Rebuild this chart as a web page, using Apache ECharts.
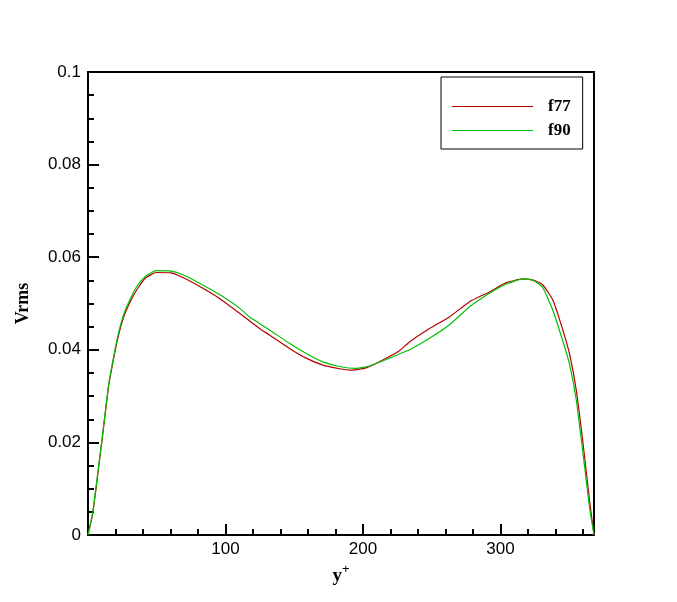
<!DOCTYPE html>
<html>
<head>
<meta charset="utf-8">
<script src="https://cdn.jsdelivr.net/npm/echarts@6/dist/echarts.min.js"></script>
<style>
html,body{margin:0;padding:0;background:#fff;}
#chart{width:677px;height:602px;}
</style>
</head>
<body>
<div id="chart"></div>
<script>
// ---- data ----
const xF77 = [0, 3.5, 8.4, 10.8, 14.9, 18.0, 21.7, 26.0, 31.4, 36.2, 42.3, 49.6, 60.5, 69.0, 83.5, 95.6, 110.2, 124.7, 132, 146.5, 158.7, 170.8, 182.9, 190.2, 202.3, 214.4, 226.5, 233.8, 248.4, 262.9, 277.5, 292, 304.1, 316.2, 321.1, 326, 330.8, 338, 345.3, 350.2, 355.1, 359.9, 364.7, 368];
const vF77 = [0, 0.0047, 0.0162, 0.0219, 0.0320, 0.0371, 0.0425, 0.0471, 0.0508, 0.0533, 0.0556, 0.0567, 0.0566, 0.0556, 0.0533, 0.0511, 0.0479, 0.0446, 0.0432, 0.0403, 0.0382, 0.0367, 0.0359, 0.0356, 0.0361, 0.0378, 0.0398, 0.0417, 0.0446, 0.0471, 0.0504, 0.0525, 0.0545, 0.0553, 0.0552, 0.0548, 0.0540, 0.0508, 0.0443, 0.0391, 0.0313, 0.0201, 0.0076, 0];
const xF90 = [0, 3.5, 8.4, 10.8, 14.9, 18.0, 21.7, 26.0, 31.4, 36.2, 42.3, 49.6, 60.5, 69.0, 83.5, 98, 110.2, 117.5, 124.7, 132, 146.5, 158.7, 170.8, 182.9, 195, 204.7, 216.9, 226.5, 233.8, 248.4, 262.9, 277.5, 292, 304.1, 316.2, 321.1, 326, 330.8, 338, 345.3, 350.2, 355.1, 359.9, 364.7, 368];
const vF90 = [0, 0.0050, 0.0165, 0.0222, 0.0323, 0.0375, 0.0430, 0.0477, 0.0514, 0.0540, 0.0560, 0.0571, 0.0570, 0.0562, 0.0540, 0.0515, 0.0490, 0.0471, 0.0457, 0.0443, 0.0414, 0.0392, 0.0374, 0.0364, 0.0360, 0.0365, 0.0379, 0.0391, 0.0400, 0.0425, 0.0454, 0.0493, 0.0522, 0.0542, 0.0553, 0.0552, 0.0546, 0.0534, 0.0486, 0.0419, 0.0369, 0.0292, 0.0179, 0.0060, 0];
const seriesNames = ['f77', 'f90'];
const xMajorTicks = [100, 200, 300];
const yMax = 0.1;
const xMax = 368;

const pairs = (xs, vs) => xs.map((x, i) => [x, vs[i]]);

const chart = echarts.init(document.getElementById('chart'), null, {renderer: 'canvas'});
const black = '#000';
const sans = '"Liberation Sans", Arial, sans-serif';
const serif = '"Liberation Serif", "Times New Roman", serif';

chart.setOption({
  backgroundColor: '#fff',
  animation: false,
  grid: {left: 88, right: 83, top: 72, bottom: 67, show: true, borderColor: black, borderWidth: 2, backgroundColor: 'transparent'},
  legend: {
    left: 441, top: 77,
    orient: 'vertical',
    padding: [21, 12, 10, 11],
    icon: 'rect',
    itemWidth: 81, itemHeight: 1.2, itemGap: 7,
    borderColor: black, borderWidth: 1, borderRadius: 0,
    backgroundColor: '#fff',
    textStyle: {fontFamily: serif, fontWeight: 'bold', fontSize: 17, color: black, padding: [0, 0, 0, 10], lineHeight: 14},
    data: seriesNames
  },
  xAxis: [
    {
      type: 'value', min: 0, max: xMax, interval: 100, position: 'bottom',
      axisLine: {show: true, lineStyle: {color: black, width: 2}},
      axisTick: {show: true, inside: true, length: 11, lineStyle: {color: black, width: 2}},
      axisLabel: {
        color: black, fontFamily: sans, fontSize: 17, margin: 6,
        formatter: v => xMajorTicks.indexOf(Math.round(v)) >= 0 ? String(Math.round(v)) : ''
      },
      splitLine: {show: false},
      name: '{a|y}{b|+}', nameLocation: 'middle', nameGap: 27,
      nameTextStyle: {
        rich: {
          a: {fontFamily: serif, fontWeight: 'bold', fontSize: 19, color: black},
          b: {fontFamily: sans, fontSize: 13, color: black, padding: [0, 0, 13, 0], verticalAlign: 'bottom'}
        }
      }
    },
    {
      type: 'value', min: 0, max: xMax, interval: 20, position: 'bottom',
      axisLine: {show: false},
      axisTick: {show: true, inside: true, length: 6, lineStyle: {color: black, width: 2}},
      axisLabel: {show: false},
      splitLine: {show: false}
    }
  ],
  yAxis: {
    type: 'value', min: 0, max: yMax, interval: 0.02,
    axisLine: {show: true, lineStyle: {color: black, width: 2}},
    axisTick: {show: true, inside: true, length: 11, lineStyle: {color: black, width: 2}},
    minorTick: {show: true, splitNumber: 4, length: 6, lineStyle: {color: black, width: 2}},
    axisLabel: {
      color: black, fontFamily: sans, fontSize: 17, margin: 7,
      formatter: v => v === 0 ? '0' : String(+v.toFixed(3))
    },
    splitLine: {show: false},
    name: 'Vrms', nameLocation: 'middle', nameRotate: 90, nameGap: 56,
    nameTextStyle: {fontFamily: serif, fontWeight: 'bold', fontSize: 18, color: black}
  },
  series: [
    {name: seriesNames[0], type: 'line', xAxisIndex: 0, data: pairs(xF77, vF77), showSymbol: false, symbol: 'none', smooth: 0.15,
      lineStyle: {color: '#b40000', width: 1.2}, itemStyle: {color: '#b40000'}},
    {name: seriesNames[1], type: 'line', xAxisIndex: 0, data: pairs(xF90, vF90), showSymbol: false, symbol: 'none', smooth: 0.15,
      lineStyle: {color: '#00c000', width: 1.2}, itemStyle: {color: '#00c000'}}
  ]
});
</script>
</body>
</html>
